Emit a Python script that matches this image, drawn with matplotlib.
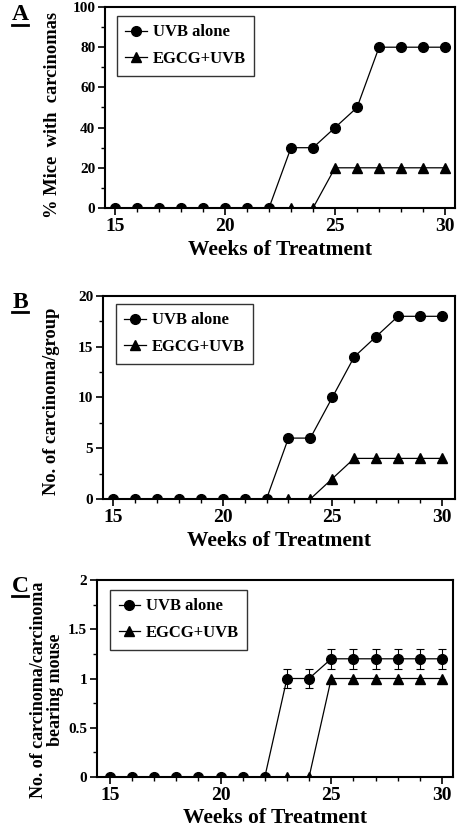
import matplotlib
matplotlib.use("Agg")
import matplotlib.pyplot as plt
from matplotlib.lines import Line2D
import numpy as np

weeks = list(range(15, 31))

# Panel A: % mice with carcinomas
a_uvb = [0, 0, 0, 0, 0, 0, 0, 0, 30, 30, 40, 50, 80, 80, 80, 80]
a_egcg = [0, 0, 0, 0, 0, 0, 0, 0, 0, 0, 20, 20, 20, 20, 20, 20]

# Panel B: number of carcinomas per group
b_uvb = [0, 0, 0, 0, 0, 0, 0, 0, 6, 6, 10, 14, 16, 18, 18, 18]
b_egcg = [0, 0, 0, 0, 0, 0, 0, 0, 0, 0, 2, 4, 4, 4, 4, 4]

# Panel C: carcinoma per carcinoma-bearing mouse
c_uvb = [0, 0, 0, 0, 0, 0, 0, 0, 1.0, 1.0, 1.2, 1.2, 1.2, 1.2, 1.2, 1.2]
c_uvb_err = [0, 0, 0, 0, 0, 0, 0, 0, 0.1, 0.1, 0.1, 0.1, 0.1, 0.1, 0.1, 0.1]
c_egcg = [0, 0, 0, 0, 0, 0, 0, 0, 0, 0, 1, 1, 1, 1, 1, 1]

series_labels = ["UVB alone", "EGCG+UVB"]
panel_letters = ["A", "B", "C"]
ylabels = ["% Mice  with  carcinomas", "No. of carcinoma/group",
           "No. of carcinoma/carcinoma\nbearing mouse"]
xlabel = "Weeks of Treatment"

FONT = "Liberation Serif"
plt.rcParams["font.family"] = [FONT, "DejaVu Serif"]
plt.rcParams["font.weight"] = "bold"

W, H = 458, 830
fig = plt.figure(figsize=(W / 100, H / 100), dpi=100)

def px_axes(l, t, r, b):
    return fig.add_axes([l / W, 1 - b / H, (r - l) / W, (b - t) / H])

axA = px_axes(105, 7, 455, 208)
axB = px_axes(103, 296, 455, 499)
axC = px_axes(97, 580, 453, 777)

def style(ax, ylim, ymajor, yminor, xlim, xlabelpad=4):
    ax.set_xlim(*xlim)
    ax.set_ylim(*ylim)
    ax.set_xticks([15, 20, 25, 30])
    ax.set_xticks(weeks, minor=True)
    ax.set_yticks(ymajor)
    ax.set_yticks(yminor, minor=True)
    for s in ax.spines.values():
        s.set_linewidth(1.5)
    ax.tick_params(axis="both", which="major", direction="out", length=5, width=1.2)
    ax.tick_params(axis="both", which="minor", direction="out", length=3, width=1.0)
    ax.tick_params(axis="x", which="major", labelsize=14, pad=2)
    ax.tick_params(axis="y", which="major", labelsize=11, pad=2)
    for lab in ax.get_xticklabels() + ax.get_yticklabels():
        lab.set_fontweight("bold")
    ax.set_xlabel(xlabel, fontsize=15.5, fontweight="bold", labelpad=xlabelpad)

mk = dict(color="black", linewidth=0.9, markersize=7)

# A
hA1, = axA.plot(weeks, a_uvb, marker="o", **mk)
hA2, = axA.plot(weeks, a_egcg, marker="^", **mk)
style(axA, (0, 100), [0, 20, 40, 60, 80, 100], np.arange(0, 101, 10), (14.55, 30.45))
axA.set_yticklabels(["0", "20", "40", "60", "80", "100"])

# B
hB1, = axB.plot(weeks, b_uvb, marker="o", **mk)
hB2, = axB.plot(weeks, b_egcg, marker="^", **mk)
style(axB, (0, 20), [0, 5, 10, 15, 20], np.arange(0, 20.1, 2.5), (14.54, 30.6))

# C
hC1 = axC.errorbar(weeks, c_uvb, yerr=c_uvb_err, marker="o", capsize=3, elinewidth=0.8,
                   capthick=0.8, **mk)
hC2, = axC.plot(weeks, c_egcg, marker="^", **mk)
style(axC, (0, 2), [0, 0.5, 1, 1.5, 2], np.arange(0, 2.01, 0.25), (14.42, 30.5),
      xlabelpad=3)
axC.set_yticklabels(["0", "0.5", "1", "1.5", "2"])

ylab_pos = [(53, 115, 13.3), (52, 401, 13.3), (47, 690, 13.0)]
for yl, (lx, ly, fs) in zip(ylabels, ylab_pos):
    fig.text(lx / W, 1 - ly / H, yl, rotation=90, ha="center",
             va="center", fontsize=fs, fontweight="bold", linespacing=1.0)

leg_anchor = [(0.034, 0.955), (0.037, 0.96), (0.037, 0.949)]
handles = [(hA1, hA2), (hB1, hB2), (hC1[0], hC2)]
for ax, hs, anc in zip([axA, axB, axC], handles, leg_anchor):
    leg = ax.legend(list(hs), series_labels, loc="upper left", bbox_to_anchor=anc,
                    borderaxespad=0, frameon=True,
                    fancybox=False, edgecolor="black", handlelength=1.3,
                    handletextpad=0.35, borderpad=0.5, labelspacing=0.65,
                    prop={"family": FONT, "weight": "bold", "size": 12})
    leg.get_frame().set_linewidth(1.0)

# Panel letters with underline
letter_pos = [(20, 15), (20, 302), (20, 586)]
for letter, (lx, ly) in zip(panel_letters, letter_pos):
    fig.text(lx / W, 1 - ly / H, letter, ha="center", va="center", fontsize=17,
             fontweight="bold")
    fig.add_artist(Line2D([(lx - 8) / W, (lx + 8) / W],
                          [1 - (ly + 10) / H, 1 - (ly + 10) / H],
                          color="black", linewidth=2.0))

fig.savefig("out.png", dpi=100)
